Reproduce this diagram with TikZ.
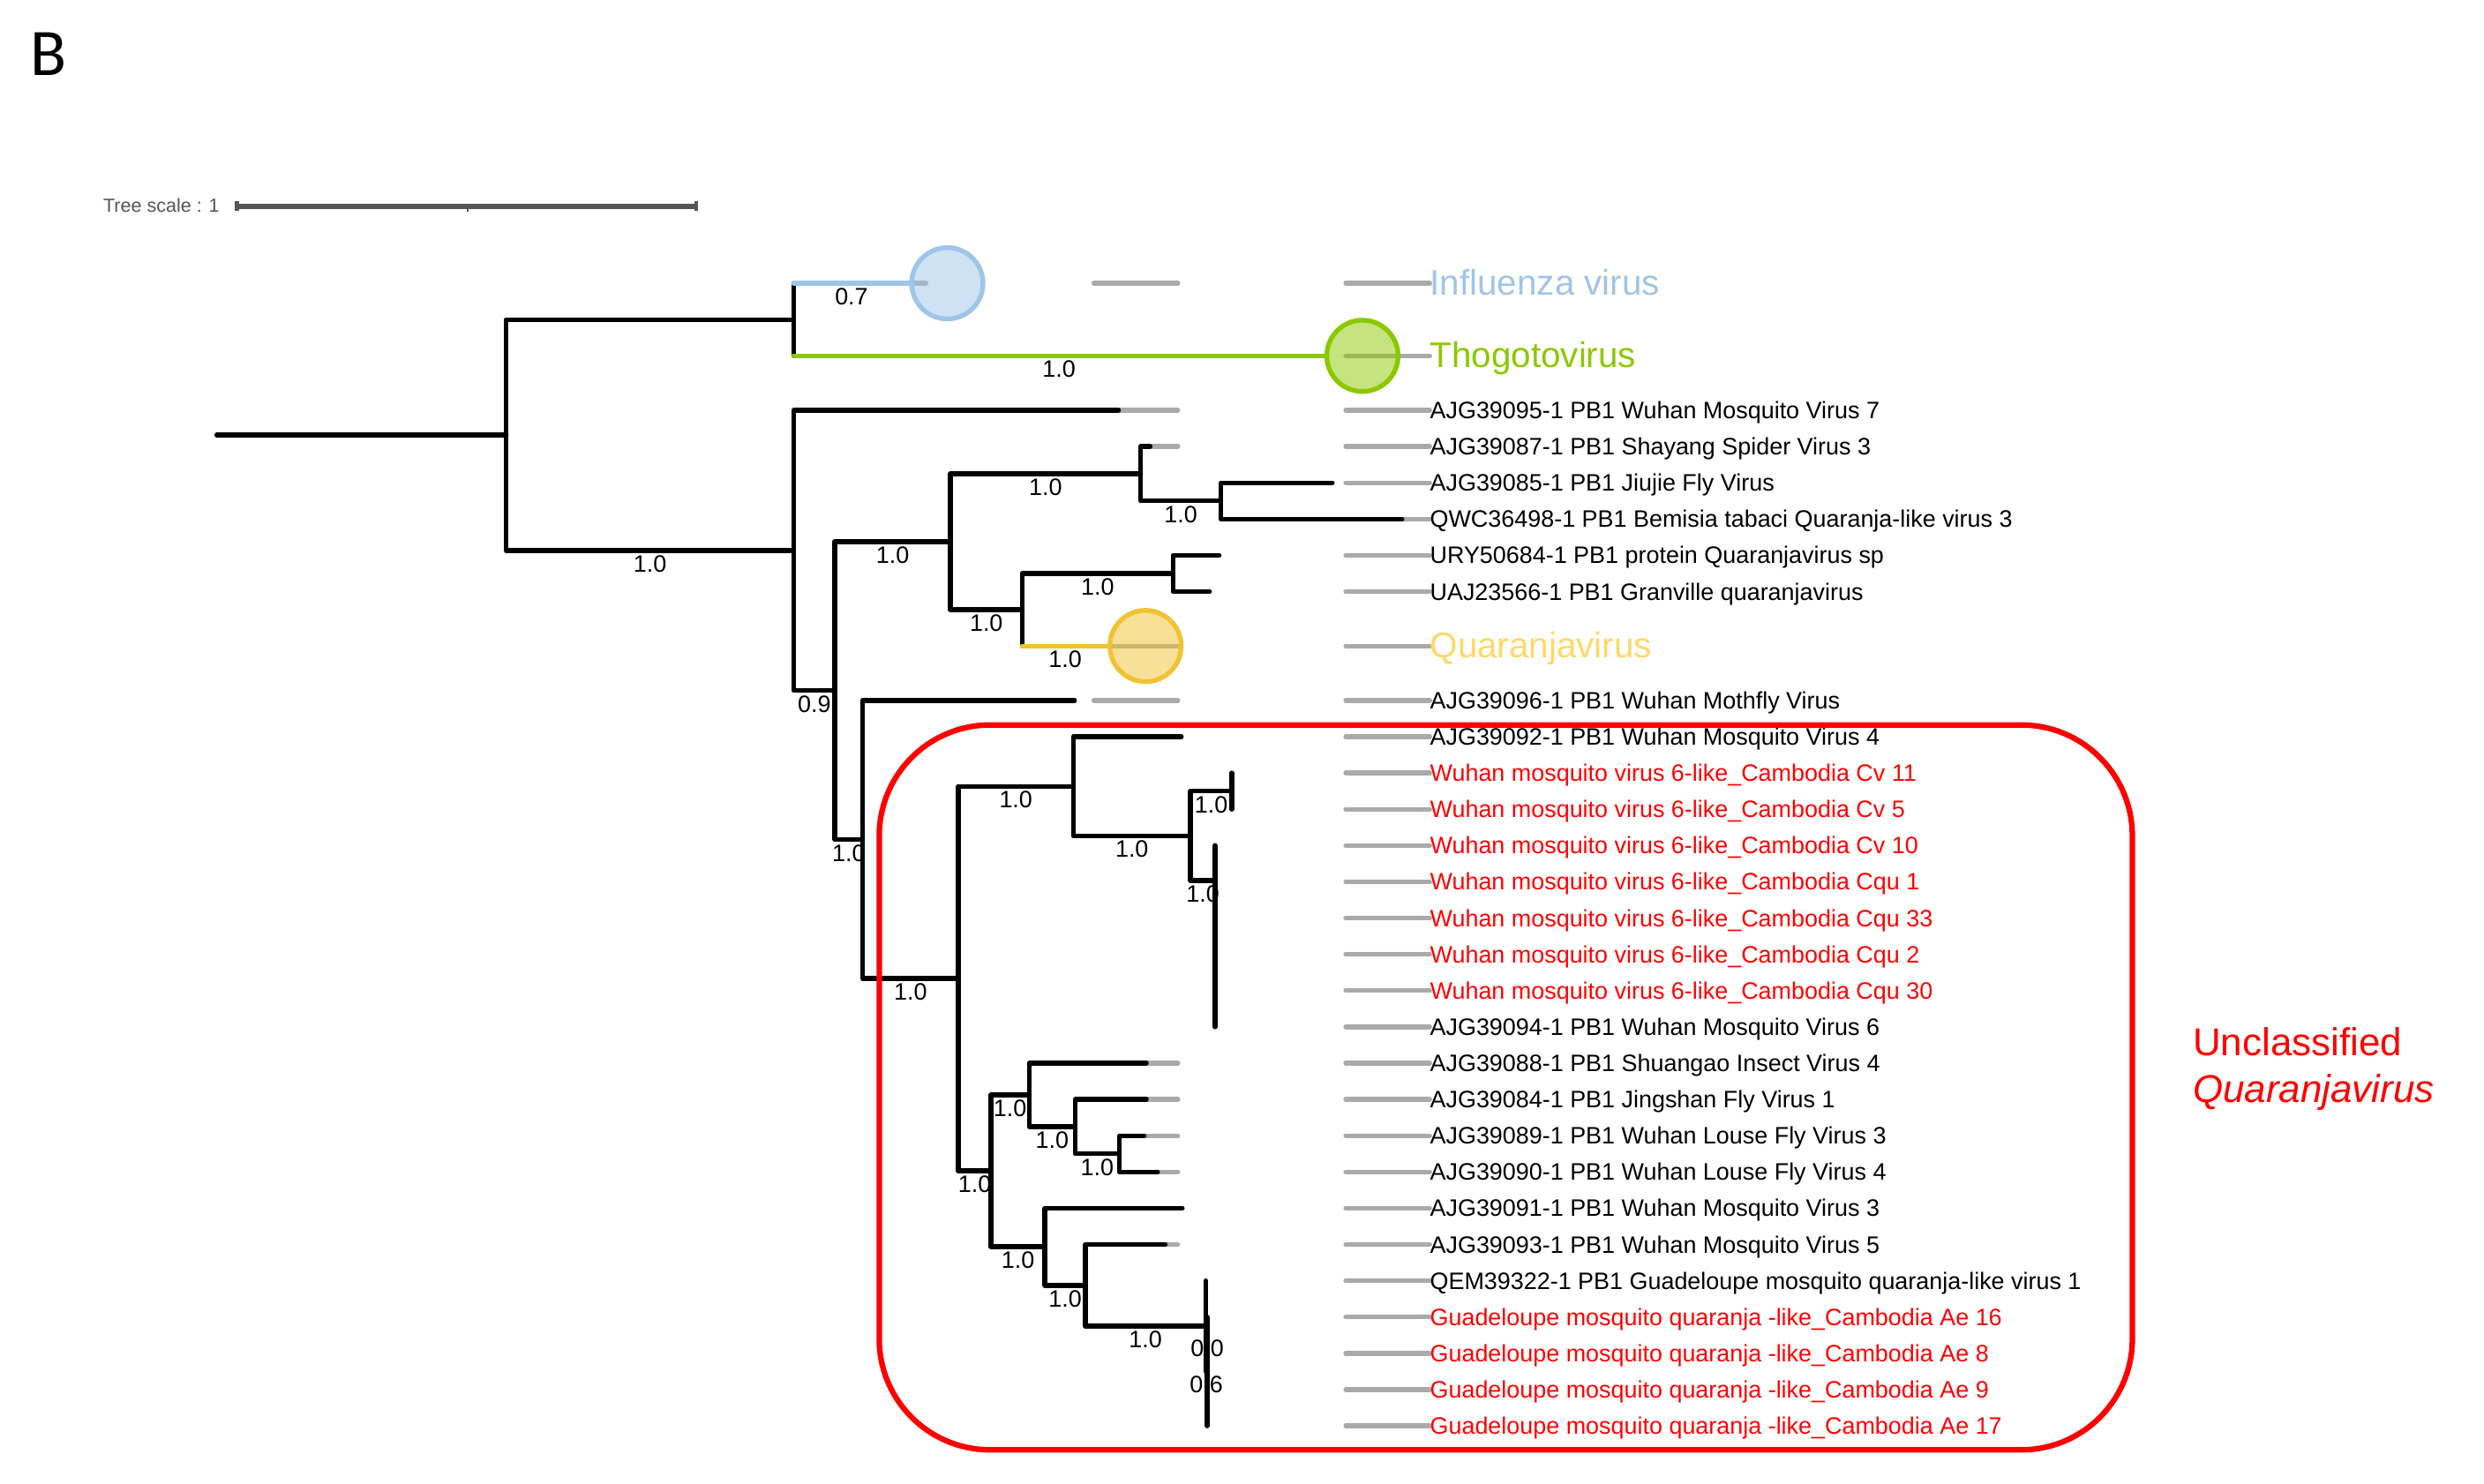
\documentclass[tikz,border=0pt]{standalone}
\usepackage{fontspec}
\setmainfont{Liberation Sans}
\newfontfamily\carlitofont{Carlito}
\definecolor{guidegrey}{HTML}{AAAAAA}
\definecolor{infblue}{HTML}{9FC5E8}
\definecolor{thogreen}{HTML}{8CC800}
\definecolor{quayel}{HTML}{F1C232}
\definecolor{quatext}{HTML}{FFD966}
\definecolor{scalegrey}{HTML}{555555}
\definecolor{boxred}{HTML}{FF0000}
\tikzset{
  br/.style={line width=3pt, line cap=round, line join=round, draw=black},
  guide/.style={line width=3pt, line cap=round, draw=guidegrey, dash pattern=on 53pt off 106pt},
  lab/.style={font=\fontsize{15}{18}\selectfont, inner sep=0pt, yshift=-8.5pt},
  leaf/.style={font=\fontsize{15}{18}\selectfont, anchor=base west, inner sep=0pt},
  redleaf/.style={leaf, text=boxred},
  bigleaf/.style={font=\fontsize{22.5}{27}\selectfont, anchor=base west, inner sep=0pt},
  clade/.style={line width=3pt, fill opacity=0.5},
}
\begin{document}
\begin{tikzpicture}[x=1pt,y=-1pt]
\useasboundingbox (0,0) rectangle (1568,936.35);

% ---------- panel letter and scale ----------
\node[anchor=base west, inner sep=0pt, font=\carlitofont\fontsize{42}{50}\selectfont] (panel) at (19,47.9) {B};
\node[anchor=base west, inner sep=0pt, text=scalegrey, font=\fontsize{12}{14}\selectfont] (scaletxt) at (65,133.9) {Tree scale : 1};
\coordinate (sb1) at (149.4,130.2);
\coordinate (sb2) at (439.5,130.2);
\coordinate (sbm) at (295.2,130.2);
\draw[scalegrey, line width=3.3pt] (sb1) -- (sb2);
\draw[scalegrey, line width=2.6pt] ([yshift=3pt]sb1) -- ([yshift=-3pt]sb1);
\draw[scalegrey, line width=2.6pt] ([yshift=3pt]sb2) -- ([yshift=-3pt]sb2);
\draw[scalegrey, line width=1.4pt] (sbm) -- ([yshift=-3.4pt]sbm);

% ---------- tips ----------
\coordinate (gx) at (902.5,0);
\coordinate (t1) at (574,178.85);
\coordinate (t2) at (836,224.65);
\coordinate (t3) at (706,259);
\coordinate (t4) at (726,281.9);
\coordinate (t5) at (841,304.8);
\coordinate (t6) at (885,327.7);
\coordinate (t7) at (769.6,350.6);
\coordinate (t8) at (763.5,373.5);
\coordinate (t9) at (699.6,407.85);
\coordinate (t10) at (678.3,442.2);
\coordinate (t11) at (745.7,465.1);
\coordinate (t12) at (777.5,488);
\coordinate (t13) at (777.5,510.9);
\coordinate (t14) at (767,533.8);
\coordinate (t15) at (767,556.7);
\coordinate (t16) at (767,579.6);
\coordinate (t17) at (767,602.5);
\coordinate (t18) at (767,625.4);
\coordinate (t19) at (767,648.3);
\coordinate (t20) at (723.6,671.2);
\coordinate (t21) at (723.6,694.1);
\coordinate (t22) at (722.2,717);
\coordinate (t23) at (730.7,739.9);
\coordinate (t24) at (746.3,762.8);
\coordinate (t25) at (735.5,785.7);
\coordinate (t26) at (761,808.6);
\coordinate (t27) at (762,831.5);
\coordinate (t28) at (762,854.4);
\coordinate (t29) at (762,877.3);
\coordinate (t30) at (762,900.2);

% ---------- internal nodes ----------
\coordinate (root) at (136.8,274.63);
\coordinate (nA) at (319.5,274.63);
\coordinate (nB) at (501,201.75);
\coordinate (nC) at (501,347.5);
\coordinate (nD) at (527,436.0);
\coordinate (nR) at (600,342.01);
\coordinate (nS) at (720,299.08);
\coordinate (nT) at (770.6,316.25);
\coordinate (nU) at (645.2,384.95);
\coordinate (nV) at (740.4,362.05);
\coordinate (nE) at (544.5,530);
\coordinate (nF) at (605,617.8);
\coordinate (nG) at (677.5,496.41);
\coordinate (nH) at (751.5,527.72);
\coordinate (nI) at (777.5,499.45);
\coordinate (nJ) at (767,555.98);
\coordinate (nJc) at (767,578.17);
\coordinate (nJd) at (767,599.64);
\coordinate (nJe) at (767,619.68);
\coordinate (nJf) at (767,636.85);
\coordinate (nL) at (625.5,739.19);
\coordinate (nK) at (649.7,691.24);
\coordinate (nM) at (678.7,711.28);
\coordinate (nN) at (706.5,728.45);
\coordinate (nO) at (659.6,787.13);
\coordinate (nP) at (685.2,811.46);
\coordinate (nQ) at (761,837.23);
\coordinate (nY) at (762,865.85);
\coordinate (nYa) at (762,842.95);
\coordinate (nYb) at (762,888.75);

% ---------- grey guide lines ----------
\foreach \t in {1,...,30} {\draw[guide] (t\t -| gx) -- (t\t);}

% ---------- branches ----------
\draw[br] (root) -- (nA);
\draw[br] (nA) |- (nB);
\draw[br] (nA) |- (nC) node[lab,pos=0.75] (sAC) {1.0};
\draw[br] (nB |- t1) -- (nB |- t2);
\draw[br, draw=infblue] (nB |- t1) -- (t1) node[lab,midway] (sB1) {0.7};
\draw[br, draw=thogreen] (nB |- t2) -- (t2) node[lab,midway] (sB2) {1.0};
\draw[br] (nC) |- (t3);
\draw[br] (nC) |- (nD) node[lab,pos=0.75] (sCD) {0.9};
\draw[br] (nD) |- (nR) node[lab,pos=0.75] (sDR) {1.0};
\draw[br] (nD) |- (nE) node[lab,pos=0.75] (sDE) {1.0};
\draw[br] (nR) |- (nS) node[lab,pos=0.75] (sRS) {1.0};
\draw[br] (nR) |- (nU) node[lab,pos=0.75] (sRU) {1.0};
\draw[br] (nS) |- (t4);
\draw[br] (nS) |- (nT) node[lab,pos=0.75] (sST) {1.0};
\draw[br] (nT) |- (t5);
\draw[br] (nT) |- (t6);
\draw[br] (nU) |- (nV) node[lab,pos=0.75] (sUV) {1.0};
\draw[br] (nU) -- (nU |- t9);
\draw[br, draw=quayel] (nU |- t9) -- (t9) node[lab,midway] (sU9) {1.0};
\draw[br] (nV) |- (t7);
\draw[br] (nV) |- (t8);
\draw[br] (nE) |- (t10);
\draw[br] (nE) |- (nF) node[lab,pos=0.75] (sEF) {1.0};
\draw[br] (nF) |- (nG) node[lab,pos=0.75] (sFG) {1.0};
\draw[br] (nF) |- (nL) node[lab,pos=0.75] (sFL) {1.0};
\draw[br] (nG) |- (t11);
\draw[br] (nG) |- (nH) node[lab,pos=0.75] (sGH) {1.0};
\draw[br] (nH) |- (nI) node[lab,pos=0.75] (sHI) {1.0};
\draw[br] (nH) |- (nJ) node[lab,pos=0.75] (sHJ) {1.0};
\draw[br] (nI) |- (t12);
\draw[br] (nI) |- (t13);
\draw[br] (nJ) |- (t14);
\draw[br] (nJ) |- (nJc);
\draw[br] (nJc) |- (t15);
\draw[br] (nJc) |- (nJd);
\draw[br] (nJd) |- (t16);
\draw[br] (nJd) |- (nJe);
\draw[br] (nJe) |- (t17);
\draw[br] (nJe) |- (nJf);
\draw[br] (nJf) |- (t18);
\draw[br] (nJf) |- (t19);
\draw[br] (nL) |- (nK) node[lab,pos=0.75] (sLK) {1.0};
\draw[br] (nL) |- (nO) node[lab,pos=0.75] (sLO) {1.0};
\draw[br] (nK) |- (t20);
\draw[br] (nK) |- (nM) node[lab,pos=0.75] (sKM) {1.0};
\draw[br] (nM) |- (t21);
\draw[br] (nM) |- (nN) node[lab,pos=0.75] (sMN) {1.0};
\draw[br] (nN) |- (t22);
\draw[br] (nN) |- (t23);
\draw[br] (nO) |- (t24);
\draw[br] (nO) |- (nP) node[lab,pos=0.75] (sOP) {1.0};
\draw[br] (nP) |- (t25);
\draw[br] (nP) |- (nQ) node[lab,pos=0.75] (sPQ) {1.0};
\draw[br] (nQ) |- (t26);
\draw[br] (nQ) |- (nY) node[lab,pos=0.75] (sQY) {0.6};
\draw[br] (nY) |- (nYa) node[lab,pos=0.75] (sYa) {0.0};
\draw[br] (nY) |- (nYb);
\draw[br] (nYa) |- (t27);
\draw[br] (nYa) |- (t28);
\draw[br] (nYb) |- (t29);
\draw[br] (nYb) |- (t30);

% ---------- collapsed clades ----------
\draw[clade, draw=infblue, fill=infblue] ([xshift=24pt]t1) circle[radius=22.5pt];
\draw[clade, draw=thogreen, fill=thogreen] ([xshift=24pt]t2) circle[radius=22.5pt];
\draw[clade, draw=quayel, fill=quayel] ([xshift=23.5pt]t9) circle[radius=22.5pt];

% ---------- leaf labels ----------
\node[bigleaf, text=infblue] (l1) at ([yshift=-7.5pt]t1 -| gx) {Influenza virus};
\node[bigleaf, text=thogreen] (l2) at ([yshift=-7.5pt]t2 -| gx) {Thogotovirus};
\node[leaf] (l3) at ([yshift=-5.3pt]t3 -| gx) {AJG39095-1 PB1 Wuhan Mosquito Virus 7};
\node[leaf] (l4) at ([yshift=-5.3pt]t4 -| gx) {AJG39087-1 PB1 Shayang Spider Virus 3};
\node[leaf] (l5) at ([yshift=-5.3pt]t5 -| gx) {AJG39085-1 PB1 Jiujie Fly Virus};
\node[leaf] (l6) at ([yshift=-5.3pt]t6 -| gx) {QWC36498-1 PB1 Bemisia tabaci Quaranja-like virus 3};
\node[leaf] (l7) at ([yshift=-5.3pt]t7 -| gx) {URY50684-1 PB1 protein Quaranjavirus sp};
\node[leaf] (l8) at ([yshift=-5.3pt]t8 -| gx) {UAJ23566-1 PB1 Granville quaranjavirus};
\node[bigleaf, text=quatext] (l9) at ([yshift=-7.5pt]t9 -| gx) {Quaranjavirus};
\node[leaf] (l10) at ([yshift=-5.3pt]t10 -| gx) {AJG39096-1 PB1 Wuhan Mothfly Virus};
\node[leaf] (l11) at ([yshift=-5.3pt]t11 -| gx) {AJG39092-1 PB1 Wuhan Mosquito Virus 4};
\node[redleaf] (l12) at ([yshift=-5.3pt]t12 -| gx) {Wuhan mosquito virus 6-like\textunderscore Cambodia Cv 11};
\node[redleaf] (l13) at ([yshift=-5.3pt]t13 -| gx) {Wuhan mosquito virus 6-like\textunderscore Cambodia Cv 5};
\node[redleaf] (l14) at ([yshift=-5.3pt]t14 -| gx) {Wuhan mosquito virus 6-like\textunderscore Cambodia Cv 10};
\node[redleaf] (l15) at ([yshift=-5.3pt]t15 -| gx) {Wuhan mosquito virus 6-like\textunderscore Cambodia Cqu 1};
\node[redleaf] (l16) at ([yshift=-5.3pt]t16 -| gx) {Wuhan mosquito virus 6-like\textunderscore Cambodia Cqu 33};
\node[redleaf] (l17) at ([yshift=-5.3pt]t17 -| gx) {Wuhan mosquito virus 6-like\textunderscore Cambodia Cqu 2};
\node[redleaf] (l18) at ([yshift=-5.3pt]t18 -| gx) {Wuhan mosquito virus 6-like\textunderscore Cambodia Cqu 30};
\node[leaf] (l19) at ([yshift=-5.3pt]t19 -| gx) {AJG39094-1 PB1 Wuhan Mosquito Virus 6};
\node[leaf] (l20) at ([yshift=-5.3pt]t20 -| gx) {AJG39088-1 PB1 Shuangao Insect Virus 4};
\node[leaf] (l21) at ([yshift=-5.3pt]t21 -| gx) {AJG39084-1 PB1 Jingshan Fly Virus 1};
\node[leaf] (l22) at ([yshift=-5.3pt]t22 -| gx) {AJG39089-1 PB1 Wuhan Louse Fly Virus 3};
\node[leaf] (l23) at ([yshift=-5.3pt]t23 -| gx) {AJG39090-1 PB1 Wuhan Louse Fly Virus 4};
\node[leaf] (l24) at ([yshift=-5.3pt]t24 -| gx) {AJG39091-1 PB1 Wuhan Mosquito Virus 3};
\node[leaf] (l25) at ([yshift=-5.3pt]t25 -| gx) {AJG39093-1 PB1 Wuhan Mosquito Virus 5};
\node[leaf] (l26) at ([yshift=-5.3pt]t26 -| gx) {QEM39322-1 PB1 Guadeloupe mosquito quaranja-like virus 1};
\node[redleaf] (l27) at ([yshift=-5.3pt]t27 -| gx) {Guadeloupe mosquito quaranja -like\textunderscore Cambodia Ae 16};
\node[redleaf] (l28) at ([yshift=-5.3pt]t28 -| gx) {Guadeloupe mosquito quaranja -like\textunderscore Cambodia Ae 8};
\node[redleaf] (l29) at ([yshift=-5.3pt]t29 -| gx) {Guadeloupe mosquito quaranja -like\textunderscore Cambodia Ae 9};
\node[redleaf] (l30) at ([yshift=-5.3pt]t30 -| gx) {Guadeloupe mosquito quaranja -like\textunderscore Cambodia Ae 17};

% ---------- highlighted group ----------
\draw[boxred, line width=3.5pt, rounded corners=70pt] (555,457.7) rectangle (1346,915.3);
\node[anchor=base west, inner sep=0pt, text=boxred, font=\fontsize{24.5}{29}\selectfont] (grp1) at (1384,666.6) {Unclassified};
\node[anchor=base west, inner sep=0pt, text=boxred, font=\itshape\fontsize{24.5}{29}\selectfont] (grp2) at (1384,695.9) {Quaranjavirus};
\end{tikzpicture}
\end{document}
